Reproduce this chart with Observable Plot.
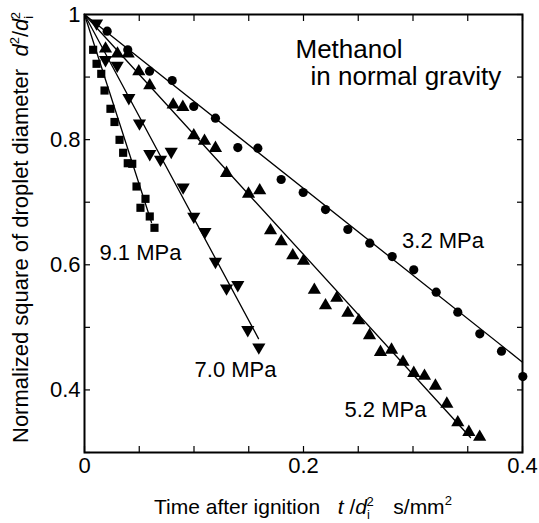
<!DOCTYPE html>
<html>
<head>
<meta charset="utf-8">
<script src="https://cdn.jsdelivr.net/npm/d3@7"></script>
<script src="https://cdn.jsdelivr.net/npm/@observablehq/plot@0.6"></script>
<style>
  html, body { margin: 0; padding: 0; background: white; }
  #chart svg { display: block; }
</style>
</head>
<body>
<div id="chart"></div>
<script>
// ---- data ----
const pressures = ["3.2 MPa", "5.2 MPa", "7.0 MPa", "9.1 MPa"];

// fitted lines: start at (0, 1), end points
const fitEndT = [0.4, 0.3525, 0.1589, 0.0612];
const fitEndV = [0.4443, 0.324, 0.482, 0.6676];

// 3.2 MPa (circles)
const t32 = [0.0207, 0.0395, 0.0594, 0.0801, 0.0998, 0.1196, 0.1400, 0.1583, 0.1796, 0.1997,
             0.2201, 0.2405, 0.2605, 0.2810, 0.3007, 0.3212, 0.3409, 0.3610, 0.3808, 0.4003];
const v32 = [0.9733, 0.9436, 0.9094, 0.8945, 0.8530, 0.8343, 0.7874, 0.7863, 0.7363, 0.7155,
             0.6883, 0.6564, 0.6345, 0.6132, 0.5920, 0.5562, 0.5242, 0.4897, 0.4619, 0.4214];

// 5.2 MPa (triangles)
const t52 = [0.0192, 0.0301, 0.0399, 0.0496, 0.0596, 0.0810, 0.0898, 0.0998, 0.1096, 0.1196,
             0.1297, 0.1498, 0.1600, 0.1699, 0.1797, 0.1902, 0.2000, 0.2099, 0.2201, 0.2304,
             0.2405, 0.2505, 0.2603, 0.2703, 0.2804, 0.2909, 0.3007, 0.3105, 0.3205, 0.3309,
             0.3409, 0.3510, 0.3609];
const v52 = [0.9452, 0.9372, 0.9372, 0.9089, 0.8865, 0.8557, 0.8518, 0.8066, 0.7978, 0.7863,
             0.7464, 0.7134, 0.7187, 0.6548, 0.6372, 0.6148, 0.6060, 0.5597, 0.5349, 0.5469,
             0.5229, 0.5109, 0.4870, 0.4603, 0.4641, 0.4446, 0.4267, 0.4222, 0.4063, 0.3778,
             0.3479, 0.3324, 0.3247];

// 7.0 MPa (inverted triangles)
const t70 = [0.0110, 0.0192, 0.0299, 0.0405, 0.0502, 0.0596, 0.0694, 0.0792, 0.0901, 0.0998,
             0.1100, 0.1196, 0.1297, 0.1400, 0.1491, 0.1592];
const v70 = [0.9861, 0.9276, 0.9185, 0.8669, 0.8263, 0.7774, 0.7683, 0.7810, 0.7240, 0.6772,
             0.6529, 0.6052, 0.5626, 0.5680, 0.4961, 0.4683];

// 9.1 MPa (squares)
const t91 = [0.0079, 0.0110, 0.0153, 0.0183, 0.0237, 0.0274, 0.0320, 0.0353, 0.0395, 0.0436,
             0.0475, 0.0511, 0.0557, 0.0596, 0.0639];
const v91 = [0.9436, 0.9212, 0.9052, 0.8785, 0.8493, 0.8282, 0.7997, 0.7790, 0.7623, 0.7614,
             0.7251, 0.6911, 0.7054, 0.6772, 0.6591];

// label anchor points (data units, baseline-left)
const labelT = [0.290, 0.2374, 0.1005, 0.0137];
const labelV = [0.6265, 0.3575, 0.420, 0.6084];
const noteLines = ["Methanol", "in normal gravity"];
const noteT = [0.1927, 0.2064];
const noteV = [0.9297, 0.888];

const xTicks = [0, 0.05, 0.1, 0.15, 0.2, 0.25, 0.3, 0.35, 0.4];
const xLabels = [0, 0.2, 0.4];
const yTicks = [0.3, 0.4, 0.5, 0.6, 0.7, 0.8, 0.9, 1];
const yLabels = [0.4, 0.6, 0.8, 1];

// ---- build ----
const invTriangle = {
  draw(context, size) {
    const s3 = Math.sqrt(3);
    const y = -Math.sqrt(size / (s3 * 3));
    context.moveTo(0, -y * 2);
    context.lineTo(-s3 * y, y);
    context.lineTo(s3 * y, y);
    context.closePath();
  }
};

const series = [
  {t: t32, v: v32, symbol: "circle", r: 4.6},
  {t: t52, v: v52, symbol: "triangle", r: 4.9},
  {t: t70, v: v70, symbol: invTriangle, r: 4.9},
  {t: t91, v: v91, symbol: "square", r: 4.6}
];

const points = series.flatMap((s, i) => s.t.map((t, j) => ({t, v: s.v[j], k: i})));
const fits = pressures.flatMap((p, i) => [
  {p, t: 0, v: 1},
  {p, t: fitEndT[i], v: fitEndV[i]}
]);
const labels = pressures.map((p, i) => ({p, t: labelT[i], v: labelV[i]}));
const notes = noteLines.map((s, i) => ({s, t: noteT[i], v: noteV[i]}));

const fmt = d => String(d);
const font = "'Liberation Sans', Arial, Helvetica, sans-serif";

const plot = Plot.plot({
  width: 539,
  height: 523,
  marginLeft: 84,
  marginRight: 17,
  marginTop: 14,
  marginBottom: 71,
  x: {domain: [0, 0.4], label: null},
  y: {domain: [0.3, 1], label: null},
  style: {fontFamily: font, fontSize: "22px", background: "white", color: "black"},
  marks: [
    // inward tick marks on all four sides
    Plot.axisX({ticks: xTicks, tickSize: 6, dy: -6, text: null, label: null, strokeWidth: 1.2}),
    Plot.axisX({anchor: "top", ticks: xTicks, tickSize: 6, dy: 6, text: null, label: null, strokeWidth: 1.2}),
    Plot.axisY({ticks: yTicks, tickSize: 6, dx: 6, text: null, label: null, strokeWidth: 1.2}),
    Plot.axisY({anchor: "right", ticks: yTicks, tickSize: 6, dx: -6, text: null, label: null, strokeWidth: 1.2}),
    // tick labels
    Plot.axisX({ticks: xLabels, tickSize: 0, tickPadding: 5, tickFormat: fmt, label: null, fontSize: 22}),
    Plot.axisY({ticks: yLabels, tickSize: 0, tickPadding: 4, tickFormat: fmt, label: null, fontSize: 22}),
    // fit lines
    Plot.line(fits, {x: "t", y: "v", z: "p", stroke: "black", strokeWidth: 1.3}),
    // data points
    ...series.map((s, i) => Plot.dot(points.filter(d => d.k === i), {
      x: "t", y: "v", symbol: () => s.symbol, r: s.r, fill: "black", stroke: "none"
    })),
    // series labels
    Plot.text(labels, {x: "t", y: "v", text: "p", textAnchor: "start", lineAnchor: "bottom", fontSize: 22, fill: "black"}),
    Plot.text(notes, {x: "t", y: "v", text: "s", textAnchor: "start", lineAnchor: "bottom", fontSize: 26, fill: "black"}),
    Plot.frame({stroke: "black", strokeWidth: 2})
  ]
});

document.getElementById("chart").appendChild(plot);

// ---- axis titles with sub/superscripts ----
const svg = d3.select(plot);

const xt = svg.append("text")
  .attr("x", 154).attr("y", 514)
  .attr("text-anchor", "start")
  .attr("font-family", font).attr("font-size", 21).attr("fill", "black")
  .style("white-space", "pre");
xt.append("tspan").text("Time after ignition  ");
xt.append("tspan").attr("dx", 6).attr("font-style", "italic").text("t");
xt.append("tspan").text(" /");
xt.append("tspan").attr("font-style", "italic").text("d");
xt.append("tspan").attr("font-size", 13).attr("dy", 5).text("i");
xt.append("tspan").attr("font-size", 13).attr("dy", -13).attr("dx", -3.5).text("2");
xt.append("tspan").attr("dy", 8).attr("dx", 8).text("  s/mm");
xt.append("tspan").attr("font-size", 13).attr("dy", -9).text("2");

const yt = svg.append("text")
  .attr("transform", "translate(28,443) rotate(-90)")
  .attr("text-anchor", "start")
  .attr("font-family", font).attr("font-size", 22).attr("fill", "black")
  .style("white-space", "pre");
yt.append("tspan").text("Normalized square of droplet diameter  ");
yt.append("tspan").attr("font-style", "italic").text("d");
yt.append("tspan").attr("font-size", 13).attr("dy", -9).text("2");
yt.append("tspan").attr("dy", 9).text("/");
yt.append("tspan").attr("font-style", "italic").text("d");
yt.append("tspan").attr("font-size", 13).attr("dy", 5).text("i");
yt.append("tspan").attr("font-size", 13).attr("dy", -13).attr("dx", -3.5).text("2");
</script>
</body>
</html>
